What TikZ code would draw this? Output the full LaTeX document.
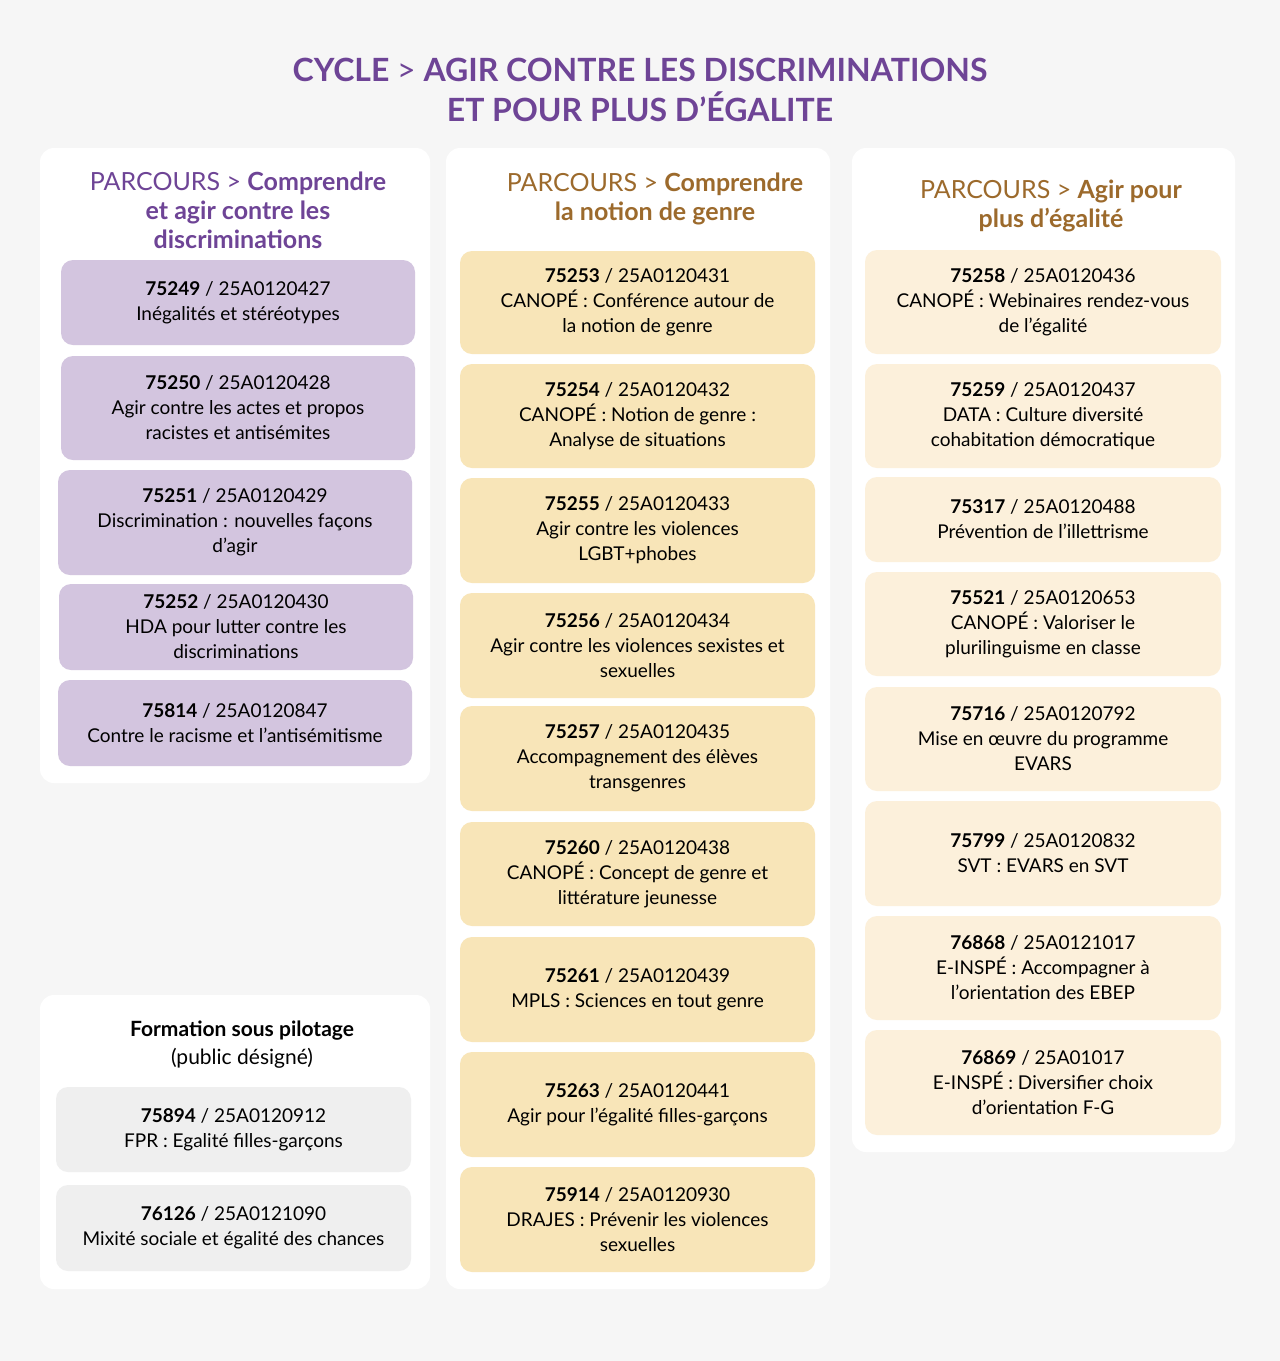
\documentclass[tikz,border=0pt]{standalone}
\usepackage{fontspec}
\setmainfont{Lato}
\definecolor{bg}{HTML}{F6F6F6}
\definecolor{ttl}{HTML}{6E4496}
\definecolor{brn}{HTML}{9C6A2C}
\definecolor{pur}{HTML}{D3C5DF}
\definecolor{yel}{HTML}{F8E5B8}
\definecolor{lye}{HTML}{FCF0DB}
\definecolor{gry}{HTML}{EFEFEF}
\tikzset{panel/.style={fill=white,rounded corners=14pt},
 card/.style={rounded corners=12pt,align=center,font=\fontsize{19}{25}\selectfont,text=black,inner sep=0pt},
 hdr/.style={align=center,font=\fontsize{25}{29}\selectfont}}
% #1 name #2 fill #3 x1 #4 x2 #5 y1 #6 y2 #7 text
\newcommand\card[7]{\path[card,fill=#2] (#3,-#5) rectangle (#4,-#6);
 \node[card] (#1) at ({(#3+#4)/2},{-(#5+#6)/2}) {#7};}
\begin{document}
\begin{tikzpicture}[x=1pt,y=1pt]
\fill[bg] (0,0) rectangle (1280,-1361);
\useasboundingbox (0,0) rectangle (1280,-1361);
\node[align=center,text=ttl,font=\fontsize{32}{40}\selectfont\bfseries] (title) at (640,-90) {CYCLE {\mdseries>} AGIR CONTRE LES DISCRIMINATIONS\\ET POUR PLUS D’ÉGALITE};
\fill[panel] (40,-148) rectangle (430,-783);
\fill[panel] (446,-148) rectangle (830,-1289);
\fill[panel] (852,-148) rectangle (1235,-1152);
\fill[panel] (40,-995) rectangle (430,-1289);
\node[hdr,text=ttl] (h1) at (238,-210) {PARCOURS > \textbf{Comprendre}\\\textbf{et agir contre les}\\\textbf{discriminations}};
\node[hdr,text=brn] (h2) at (655,-199) {PARCOURS > \textbf{Comprendre}\\\textbf{la notion de genre}};
\node[hdr,text=brn] (h3) at (1051,-206) {PARCOURS > \textbf{Agir pour}\\\textbf{plus d’égalité}};
\node[hdr,font=\fontsize{21}{28}\selectfont] (h4) at (242,-1045) {\textbf{Formation sous pilotage}\\(public désigné)};
\card{a1}{pur}{61}{415}{260}{345}{\textbf{75249} / 25A0120427\\Inégalités et stéréotypes}
\card{a2}{pur}{61}{415}{356}{460}{\textbf{75250} / 25A0120428\\Agir contre les actes et propos\\racistes et antisémites}
\card{a3}{pur}{58}{412}{470}{575}{\textbf{75251} / 25A0120429\\Discrimination : nouvelles façons\\d’agir}
\card{a4}{pur}{59}{413}{584}{670}{\textbf{75252} / 25A0120430\\HDA pour lutter contre les\\discriminations}
\card{a5}{pur}{58}{412}{680}{766}{\textbf{75814} / 25A0120847\\Contre le racisme et l’antisémitisme}
\card{b1}{yel}{460}{815}{251}{354}{\textbf{75253} / 25A0120431\\CANOPÉ : Conférence autour de\\la notion de genre}
\card{b2}{yel}{460}{815}{364}{468}{\textbf{75254} / 25A0120432\\CANOPÉ : Notion de genre :\\Analyse de situations}
\card{b3}{yel}{460}{815}{478}{583}{\textbf{75255} / 25A0120433\\Agir contre les violences\\LGBT+phobes}
\card{b4}{yel}{460}{815}{593}{698}{\textbf{75256} / 25A0120434\\Agir contre les violences sexistes et\\sexuelles}
\card{b5}{yel}{460}{815}{706}{811}{\textbf{75257} / 25A0120435\\Accompagnement des élèves\\transgenres}
\card{b6}{yel}{460}{815}{822}{926}{\textbf{75260} / 25A0120438\\CANOPÉ : Concept de genre et\\littérature jeunesse}
\card{b7}{yel}{460}{815}{937}{1042}{\textbf{75261} / 25A0120439\\MPLS : Sciences en tout genre}
\card{b8}{yel}{460}{815}{1052}{1157}{\textbf{75263} / 25A0120441\\Agir pour l’égalité filles-garçons}
\card{b9}{yel}{460}{815}{1167}{1272}{\textbf{75914} / 25A0120930\\DRAJES : Prévenir les violences\\sexuelles}
\card{c1}{lye}{865}{1221}{250}{354}{\textbf{75258} / 25A0120436\\CANOPÉ : Webinaires rendez-vous\\de l’égalité}
\card{c2}{lye}{865}{1221}{364}{468}{\textbf{75259} / 25A0120437\\DATA : Culture diversité\\cohabitation démocratique}
\card{c3}{lye}{865}{1221}{477}{562}{\textbf{75317} / 25A0120488\\Prévention de l’illettrisme}
\card{c4}{lye}{865}{1221}{572}{676}{\textbf{75521} / 25A0120653\\CANOPÉ : Valoriser le\\plurilinguisme en classe}
\card{c5}{lye}{865}{1221}{687}{791}{\textbf{75716} / 25A0120792\\Mise en œuvre du programme\\EVARS}
\card{c6}{lye}{865}{1221}{801}{906}{\textbf{75799} / 25A0120832\\SVT : EVARS en SVT}
\card{c7}{lye}{865}{1221}{916}{1020}{\textbf{76868} / 25A0121017\\E-INSPÉ : Accompagner à\\l’orientation des EBEP}
\card{c8}{lye}{865}{1221}{1030}{1135}{\textbf{76869} / 25A01017\\E-INSPÉ : Diversifier choix\\d’orientation F-G}
\card{d1}{gry}{56}{411}{1087}{1172}{\textbf{75894} / 25A0120912\\FPR : Egalité filles-garçons}
\card{d2}{gry}{56}{411}{1185}{1271}{\textbf{76126} / 25A0121090\\Mixité sociale et égalité des chances}
\end{tikzpicture}
\end{document}
